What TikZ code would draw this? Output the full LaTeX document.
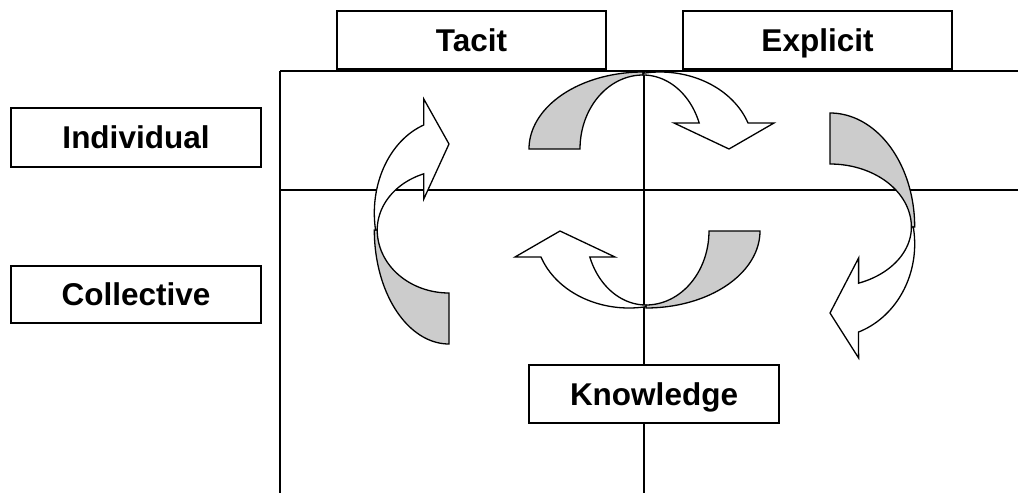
\documentclass[tikz,border=0pt]{standalone}
\usepackage{fontspec}
\setmainfont{Liberation Sans}
\definecolor{shadegray}{RGB}{204,204,204}
\tikzset{
  gridline/.style={line width=1.5pt},
  lblbox/.style={draw, line width=1.5pt, fill=white, inner sep=0pt,
    minimum height=58pt, text height=22.6pt, text depth=0pt,
    font=\bfseries\fontsize{31.5}{36}\selectfont},
  arrowline/.style={line width=1.3pt, line join=miter},
  carrow/.pic={
    \draw[arrowline, fill=shadegray]
      plot[domain=180:270, samples=40] ({114*cos(\x)},{77*sin(\x)})
      -- plot[domain=270:180, samples=40] ({63*cos(\x)},{74*sin(\x)})
      -- cycle;
    \draw[arrowline, fill=white]
      plot[domain=259.5:340.3, samples=40] ({17+93.5*cos(\x)},{77*sin(\x)})
      -- (131,-26) -- (86,0) -- (31,-26)
      -- plot[domain=339.4:270, samples=40] ({60*cos(\x)},{74*sin(\x)})
      -- cycle;
  }
}
\begin{document}
\begin{tikzpicture}[x=1pt,y=-1pt]
\useasboundingbox (0,0) rectangle (1018,493);
% grid
\coordinate (gTL) at (280,71);
\coordinate (gTR) at (1018,71);
\coordinate (gML) at (280,190);
\coordinate (gMR) at (1018,190);
\coordinate (gBL) at (280,493);
\coordinate (cT) at (644,71);
\coordinate (cB) at (644,493);
\draw[gridline] (gTL) -- (gTR);
\draw[gridline] (gML) -- (gMR);
\draw[gridline] (gTL) -- (gBL);
\draw[gridline] (cT) -- (cB);
% curved arrows
\pic at (643,149) {carrow};
\pic[rotate=-90, yscale=1.1] at (830,227) {carrow};
\pic[rotate=180] at (646,231) {carrow};
\pic[rotate=90, yscale=0.97] at (449,230) {carrow};
% labels
\node[lblbox, minimum width=269pt] (tacit) at (471.5,40) {Tacit};
\node[lblbox, minimum width=269pt] (explicit) at (817.5,40) {Explicit};
\node[lblbox, minimum width=250pt, minimum height=59pt] (individual) at (136,137.5) {Individual};
\node[lblbox, minimum width=250pt, minimum height=57pt] (collective) at (136,294.5) {Collective};
\node[lblbox, minimum width=250pt] (knowledge) at (654,394) {Knowledge};
\end{tikzpicture}
\end{document}
